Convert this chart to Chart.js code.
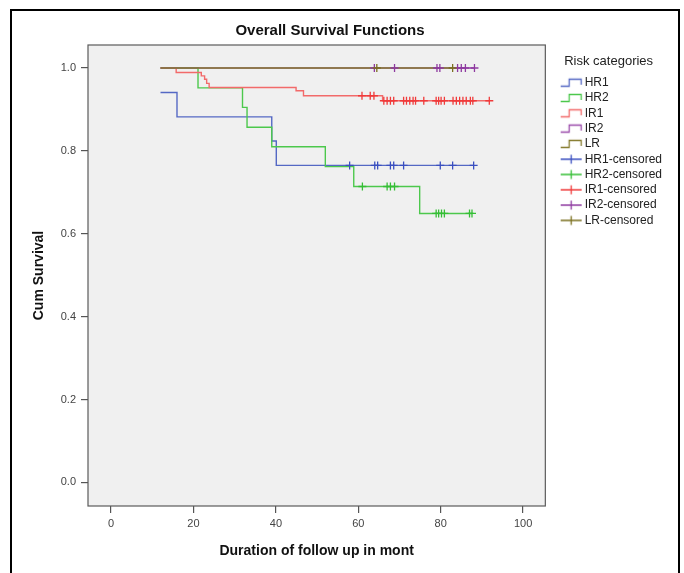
<!DOCTYPE html>
<html>
<head>
<meta charset="utf-8">
<script src="https://cdn.jsdelivr.net/npm/chart.js@4/dist/chart.umd.min.js"></script>
<style>
  html, body { margin: 0; padding: 0; background: #fff; }
  #wrap { position: relative; width: 684px; height: 573px; }
</style>
</head>
<body>
<div id="wrap"><canvas id="c" width="684" height="573"></canvas></div>
<script>
// ---- data ----
const seriesNames = ['HR1', 'HR2', 'IR1', 'IR2', 'LR'];
// step functions: survival value applies from the matching time onward
const hr1Times = [12, 16, 39, 40.1];
const hr1Surv  = [0.941, 0.882, 0.824, 0.765];
const hr1End   = 88;
const hr2Times = [12, 21.1, 31.9, 33, 39, 52, 58.9, 74.9];
const hr2Surv  = [1, 0.952, 0.905, 0.857, 0.810, 0.762, 0.714, 0.649];
const hr2End   = 87.6;
const ir1Times = [12, 15.8, 21.9, 22.7, 23.2, 23.8, 44.9, 46.7, 65.9];
const ir1Surv  = [1, 0.989, 0.981, 0.973, 0.963, 0.953, 0.945, 0.933, 0.921];
const ir1End   = 91.8;
const ir2Times = [12];
const ir2Surv  = [1];
const ir2End   = 88.2;
const lrTimes  = [12];
const lrSurv   = [1];
const lrEnd    = 82.9;
// censored times
const hr1Cens = [57.9, 64.0, 64.7, 67.8, 68.6, 71.0, 79.9, 82.9, 88.0];
const hr2Cens = [61, 67, 67.8, 68.8, 78.9, 79.5, 80.2, 80.9, 87.0, 87.6];
const ir1Cens = [60.9, 62.9, 63.8, 66.2, 67.0, 67.8, 68.6, 71.0, 71.7, 72.5, 73.3, 73.9, 75.9,
                 78.9, 79.5, 80.1, 80.9, 83.0, 83.8, 84.6, 85.4, 86.2, 87.2, 87.8, 91.8];
const ir2Cens = [63.9, 68.8, 79.1, 79.8, 84.1, 85.0, 86.0, 88.2];
const lrCens  = [64.5, 82.9];
// axis ticks
const xTicks = [0, 20, 40, 60, 80, 100];
const yTicks = [0.0, 0.2, 0.4, 0.6, 0.8, 1.0];

// ---- styles ----
const lineColors = ['#5468c4', '#4cc84c', '#f26a6a', '#9a4aaa', '#857a2c'];
const censColors = ['#3a4fc0', '#35be35', '#f03a3a', '#8e3aa0', '#7a6f1e'];

function stepPoints(times, surv, end) {
  const pts = [{x: times[0], y: surv[0]}];
  for (let i = 1; i < times.length; i++) {
    pts.push({x: times[i], y: surv[i - 1]});
    pts.push({x: times[i], y: surv[i]});
  }
  pts.push({x: end, y: surv[surv.length - 1]});
  return pts;
}
function survAt(times, surv, t) {
  let v = surv[0];
  for (let i = 0; i < times.length; i++) if (times[i] <= t) v = surv[i];
  return v;
}

const curves = [
  [hr1Times, hr1Surv, hr1End, hr1Cens],
  [hr2Times, hr2Surv, hr2End, hr2Cens],
  [ir1Times, ir1Surv, ir1End, ir1Cens],
  [ir2Times, ir2Surv, ir2End, ir2Cens],
  [lrTimes, lrSurv, lrEnd, lrCens]
];

function stepIcon(color) {
  const c = document.createElement('canvas');
  c.width = 46; c.height = 12;
  const g = c.getContext('2d');
  g.strokeStyle = color; g.lineWidth = 1.3;
  g.beginPath();
  g.moveTo(20, 9.5); g.lineTo(28.5, 9.5); g.lineTo(28.5, 2.5); g.lineTo(40.5, 2.5); g.lineTo(40.5, 8);
  g.stroke();
  return c;
}
function crossIcon(color) {
  const c = document.createElement('canvas');
  c.width = 46; c.height = 12;
  const g = c.getContext('2d');
  g.strokeStyle = color; g.lineWidth = 1.3;
  g.beginPath();
  g.moveTo(20, 6); g.lineTo(41, 6);
  g.moveTo(30.5, 1.5); g.lineTo(30.5, 10.5);
  g.stroke();
  return c;
}

const datasets = [];
curves.forEach((cv, i) => {
  datasets.push({
    label: seriesNames[i],
    data: stepPoints(cv[0], cv[1], cv[2]),
    showLine: true,
    borderColor: lineColors[i],
    backgroundColor: lineColors[i],
    borderWidth: 1.4,
    pointRadius: 0,
    tension: 0,
    order: 10 - i,
    legendIcon: stepIcon(lineColors[i])
  });
});
curves.forEach((cv, i) => {
  datasets.push({
    label: seriesNames[i] + '-censored',
    data: cv[3].map(t => ({x: t, y: survAt(cv[0], cv[1], t)})),
    showLine: false,
    borderColor: censColors[i],
    backgroundColor: censColors[i],
    pointStyle: 'cross',
    pointRadius: 4,
    pointBorderWidth: 1.3,
    order: 5 - i,
    legendIcon: crossIcon(censColors[i])
  });
});

const frame = {
  id: 'frame',
  afterLayout(chart) {
    // centre the title as in the reference
    if (chart.titleBlock) { chart.titleBlock.left = 0; chart.titleBlock.right = 660; }
  },
  beforeDraw(chart) {
    const ctx = chart.ctx, a = chart.chartArea;
    ctx.save();
    ctx.fillStyle = '#ffffff';
    ctx.fillRect(0, 0, chart.width, chart.height);
    ctx.fillStyle = '#f0f0f0';
    ctx.fillRect(a.left, a.top, a.right - a.left, a.bottom - a.top);
    ctx.restore();
  },
  afterDraw(chart) {
    const ctx = chart.ctx, a = chart.chartArea;
    ctx.save();
    ctx.strokeStyle = '#5a5a5a';
    ctx.lineWidth = 1.2;
    ctx.strokeRect(a.left, a.top, a.right - a.left, a.bottom - a.top);
    ctx.strokeStyle = '#000';
    ctx.lineWidth = 2;
    ctx.strokeRect(11, 10, 668, 620);
    ctx.restore();
  }
};

const FONT = "'Liberation Sans', Arial, sans-serif";

new Chart(document.getElementById('c'), {
  type: 'scatter',
  data: { datasets },
  plugins: [frame],
  options: {
    responsive: false,
    animation: false,
    layout: { padding: { left: 0, right: 12, top: 0, bottom: 0 } },
    plugins: {
      tooltip: { enabled: false },
      title: {
        display: true,
        text: 'Overall Survival Functions',
        color: '#111',
        font: { family: "'Liberation Sans Narrow', 'Liberation Sans', sans-serif", size: 15, weight: 'bold' },
        padding: { top: 22, bottom: 5 }
      },
      legend: {
        position: 'right',
        align: 'start',
        fullSize: false,
        title: {
          display: true,
          text: 'Risk categories',
          color: '#222',
          position: 'center',
          font: { family: FONT, size: 13 },
          padding: { top: 9.5, bottom: 3.3 }
        },
        labels: {
          usePointStyle: true,
          pointStyleWidth: 30,
          padding: 3.3,
          color: '#222',
          font: { family: FONT, size: 12 },
          sort: (a, b) => a.datasetIndex - b.datasetIndex,
          generateLabels(chart) {
            return chart.data.datasets.map((d, i) => ({
              text: d.label,
              fillStyle: d.borderColor,
              strokeStyle: d.borderColor,
              lineWidth: 0,
              pointStyle: d.legendIcon,
              hidden: false,
              datasetIndex: i,
              fontColor: '#222'
            }));
          }
        }
      }
    },
    scales: {
      x: {
        type: 'linear',
        min: -5.6,
        max: 105.4,
        afterBuildTicks: s => { s.ticks = xTicks.map(v => ({ value: v })); },
        afterFit: s => { s.height = 67; },
        grid: { display: true, drawOnChartArea: false, drawTicks: true, tickLength: 7, color: '#555', lineWidth: 1.2 },
        border: { display: false },
        ticks: { color: '#444', font: { family: FONT, size: 11 }, padding: 4, maxRotation: 0, callback: v => String(v) },
        title: { display: true, text: 'Duration of follow up in mont', color: '#111',
                 font: { family: FONT, size: 14, weight: 'bold' }, padding: { top: 0, bottom: 13 } }
      },
      y: {
        type: 'linear',
        min: -0.057,
        max: 1.0555,
        afterBuildTicks: s => { s.ticks = yTicks.map(v => ({ value: v })); },
        afterFit: s => { s.width = 88; },
        grid: { display: true, drawOnChartArea: false, drawTicks: true, tickLength: 7, color: '#555', lineWidth: 1.2 },
        border: { display: false },
        ticks: { color: '#444', font: { family: FONT, size: 11 }, padding: 5, callback: v => Number(v).toFixed(1) },
        title: { display: true, text: 'Cum Survival', color: '#111',
                 font: { family: FONT, size: 14, weight: 'bold' }, padding: { top: 31, bottom: 0 } }
      }
    }
  }
});
</script>
</body>
</html>
